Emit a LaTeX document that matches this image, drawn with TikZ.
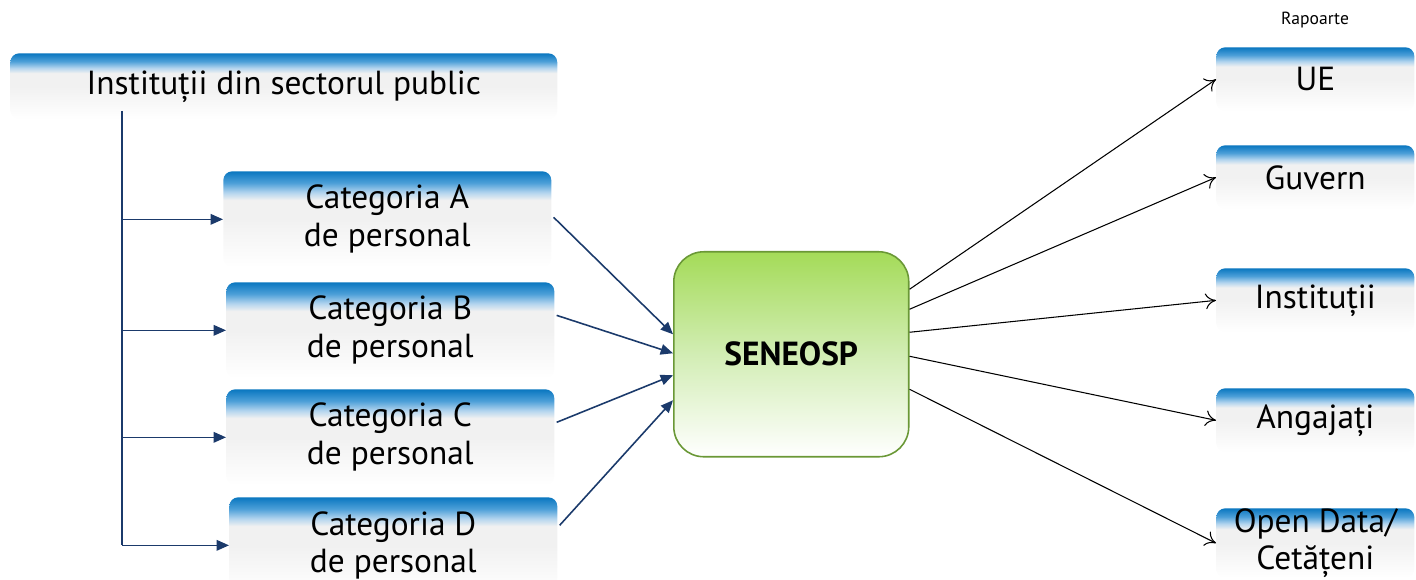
\documentclass[tikz,border=0pt]{standalone}
\usepackage{fontspec}
\setmainfont{PT Sans}
\usetikzlibrary{arrows.meta,calc}

\definecolor{boxblue}{HTML}{0A77C0}
\definecolor{boxmid}{HTML}{4C9FD8}
\definecolor{boxlight}{HTML}{B2D4EE}
\definecolor{boxgrey}{HTML}{F1F1F1}
\definecolor{senegreen}{HTML}{A4DB58}
\definecolor{senepale}{HTML}{D2EDB4}
\definecolor{seneborder}{HTML}{6A9836}
\definecolor{navy}{HTML}{1B3A6B}

\pgfdeclareverticalshading{bluebox}{100bp}{color(0bp)=(white); color(25bp)=(white); color(50bp)=(boxgrey); color(60bp)=(boxgrey); color(64bp)=(boxlight); color(69bp)=(boxmid); color(75bp)=(boxblue); color(100bp)=(boxblue)}
\pgfdeclareverticalshading{greenbox}{100bp}{color(0bp)=(white); color(25bp)=(white); color(50bp)=(senepale); color(75bp)=(senegreen); color(100bp)=(senegreen)}

\tikzset{
  box/.style={shading=bluebox,rounded corners=5pt,inner sep=0pt,align=center,
    anchor=north west,font=\fontsize{19}{21.5}\selectfont},
  topbox/.style={box,minimum width=10.94cm,minimum height=1.32cm},
  catbox/.style={box,minimum width=6.56cm,minimum height=1.92cm},
  outbox/.style={box,minimum width=3.96cm,minimum height=1.28cm},
  navyline/.style={draw=navy,line width=0.9pt},
  navyarrow/.style={navyline,-{Triangle[length=7pt,width=6pt]}},
  outarrow/.style={draw=black,line width=0.6pt,-{To[length=6pt,width=9pt]}}
}

\begin{document}
\begin{tikzpicture}[x=0.02cm,y=-0.02cm]
\useasboundingbox (0,0) rectangle (1416,580);

\node[topbox] (inst) at (10,53) {Instituții din sectorul public};

\node[catbox] (catA) at (223,171) {Categoria A\\de personal};
\node[catbox] (catB) at (226,282) {Categoria B\\de personal};
\node[catbox] (catC) at (226,389) {Categoria C\\de personal};
\node[catbox] (catD) at (229,497) {Categoria D\\de personal};

\node[shading=greenbox,draw=seneborder,line width=0.9pt,rounded corners=0.6cm,
  minimum width=4.7cm,minimum height=4.1cm,anchor=north west,
  font=\bfseries\fontsize{19}{22}\selectfont] (sen) at (673,251) {SENEOSP};

\node[font=\fontsize{10}{12}\selectfont] (rap) at (1315,20) {Rapoarte};
\node[outbox] (ue) at (1216,47) {UE};
\node[outbox] (guv) at (1216,145) {Guvern};
\node[outbox] (instout) at (1216,268) {Instituții};
\node[outbox] (ang) at (1216,388) {Angajați};
\node[outbox] (open) at (1216,508) {Open Data/\\Cetățeni};

\coordinate (trunk) at (122,111);
\draw[navyline] (trunk) -- (trunk |- catD.west);
\foreach \c in {catA,catB,catC,catD}
  \draw[navyarrow] (trunk |- \c.west) -- (\c.west);

\foreach \c/\s/\d in {catA/-2/-20,catB/-15/-1,catC/-15/21,catD/-20/46}
  \draw[navyarrow] ($(\c.east)+(2,\s)$) -- ($(sen.west)+(0,\d)$);

\foreach \d/\o in {-65/ue,-45/guv,-22/instout,2/ang,35/open}
  \draw[outarrow] ($(sen.east)+(0,\d)$) -- (\o.west);
\end{tikzpicture}
\end{document}
